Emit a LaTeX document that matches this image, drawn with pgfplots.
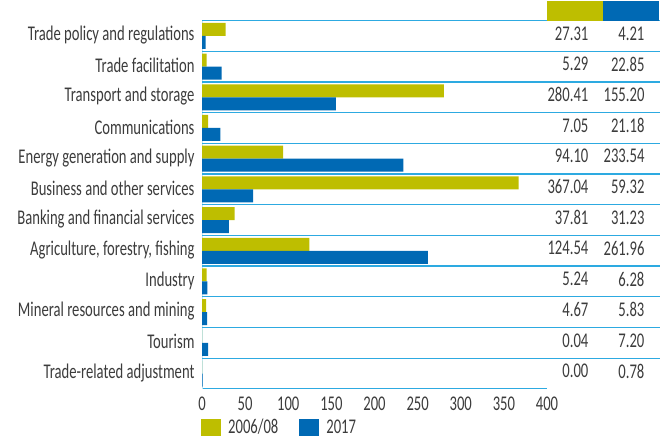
\documentclass[border=0pt]{standalone}
\usepackage{fontspec}
\setmainfont{Carlito}[FakeStretch=0.7]
\usepackage{pgfplots}
\pgfplotsset{compat=1.18}
\usepackage{pgfplotstable}
\definecolor{olv}{RGB}{190,190,0}
\definecolor{blu}{RGB}{0,105,180}
\definecolor{sep}{RGB}{45,170,225}
\definecolor{txt}{RGB}{60,60,60}
\pgfplotstableread{
y a b sa sb
11 27.31 4.21 27.31 4.21
10 5.29 22.85 5.29 22.85
9 280.41 155.20 280.41 155.20
8 7.05 21.18 7.05 21.18
7 94.10 233.54 94.10 233.54
6 367.04 59.32 367.04 59.32
5 37.81 31.23 37.81 31.23
4 124.54 261.96 124.54 261.96
3 5.24 6.28 5.24 6.28
2 4.67 5.83 4.67 5.83
1 0.04 7.20 0.04 7.20
0 0.00 0.78 0.00 0.78
}\data
\newcommand\lf{\fontsize{21}{24}\selectfont}
\begin{document}
\begin{tikzpicture}
\begin{axis}[
  scale only axis, width=345bp, height=368.4bp,
  xmin=0, xmax=400, ymin=-0.5, ymax=11.5,
  clip=false,
  axis lines*=left,
  x axis line style={color=sep, line width=1bp},
  y axis line style={color=sep!30, line width=0.6bp},
  xtick={0,50,...,400}, ytick={0,...,11},
  tick style={draw=none}, major tick length=0pt,
  yticklabels={Trade-related adjustment, Tourism, Mineral resources and mining, Industry, {Agriculture, forestry, fishing}, Banking and financial services, Business and other services, Energy generation and supply, Communications, Transport and storage, Trade facilitation, Trade policy and regulations},
  ticklabel style={font=\lf, text=txt},
  yticklabel style={xshift=-4bp, yshift=1bp},
  xticklabel style={yshift=-4bp},
  /pgf/number format/assume math mode=true,
  legend style={at={(axis description cs:0,0)}, anchor=north west, draw=none, fill=none,
    xshift=-4bp, yshift=-26bp, font=\lf, text=txt, legend columns=2,
    /tikz/every odd column/.append style={column sep=5bp},
    /tikz/every even column/.append style={column sep=19bp}},
  legend cell align=left,
]
\addplot[xbar, bar width=13bp, bar shift=6.5bp, fill=olv, draw=none,
  legend image code/.code={\fill[olv] (0bp,-8.5bp) rectangle (20bp,8.5bp);}]
  table[x=a, y=y] {\data};
\addplot[xbar, bar width=13bp, bar shift=-6.5bp, fill=blu, draw=none,
  legend image code/.code={\fill[blu] (0bp,-8.5bp) rectangle (20bp,8.5bp);}]
  table[x=b, y=y] {\data};
\legend{2006/08, 2017}
\pgfplotsinvokeforeach{0.5,1.5,...,11.5}{
  \draw[sep, line width=1.3bp] (axis cs:0,#1) -- (axis cs:531,#1);
}
\fill[olv] (axis cs:400,11.5) rectangle (axis cs:465,12.135);
\fill[blu] (axis cs:465,11.5) rectangle (axis cs:530,12.135);
\addplot[draw=none, mark=none, forget plot, nodes near coords, point meta=explicit symbolic,
  nodes near coords style={anchor=east, font=\lf, text=txt, yshift=2.5bp}]
  table[x expr=452, y=y, meta=sa] {\data};
\addplot[draw=none, mark=none, forget plot, nodes near coords, point meta=explicit symbolic,
  nodes near coords style={anchor=east, font=\lf, text=txt, yshift=2.5bp}]
  table[x expr=517, y=y, meta=sb] {\data};
\coordinate (bbsw) at (axis cs:-234.2,-2.194);
\coordinate (bbne) at (axis cs:539.1,12.168);
\end{axis}
\pgfresetboundingbox
\useasboundingbox (bbsw) rectangle (bbne);
\end{tikzpicture}
\end{document}
